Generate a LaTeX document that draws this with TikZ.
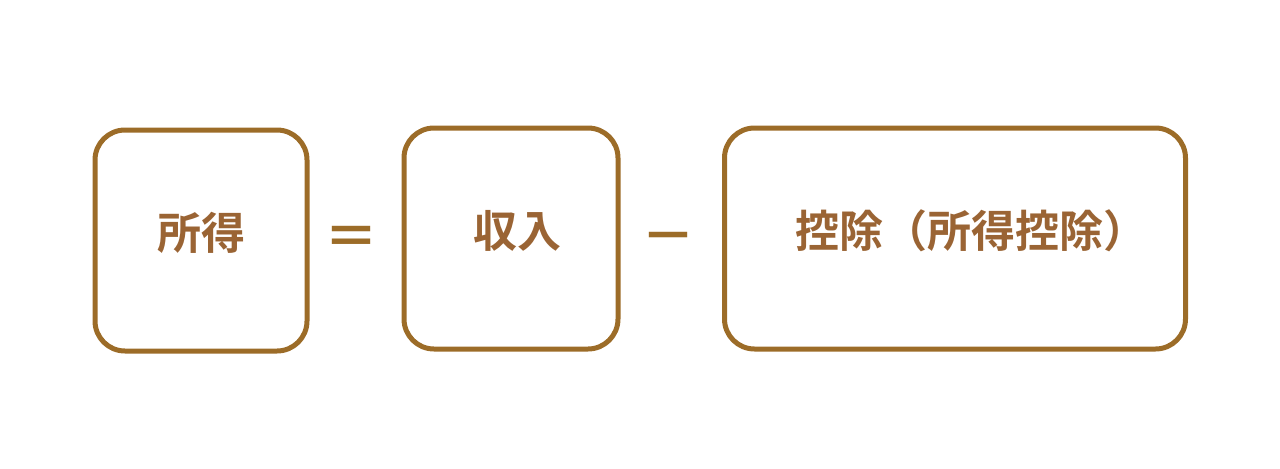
\documentclass[tikz,border=0pt]{standalone}
\usepackage{fontspec}
\setmainfont{Noto Sans CJK JP}
\newfontfamily\jpbold[BoldFont={* Bold}]{Noto Sans CJK JP}
\usepackage{tikz}
\usetikzlibrary{positioning}
\definecolor{boxbrown}{HTML}{9C6C28}
\definecolor{textbrown}{HTML}{9A6434}

\begin{document}
\begin{tikzpicture}[
      x=0.5pt,y=0.5pt,
      termbox/.style={
        minimum height=110.5pt,
        inner sep=0pt,
        text height=18pt,
        text depth=9pt,
        align=center,
        rounded corners=15pt,
        line width=2.5pt,
        draw=boxbrown,
        text=textbrown,
        font=\jpbold\bfseries\fontsize{22pt}{26pt}\selectfont,
      },
      sign/.style={
        text=boxbrown,
        inner sep=0pt,
        font=\jpbold\bfseries\fontsize{27pt}{30pt}\selectfont,
      },
      ]
      \useasboundingbox (0,0) rectangle (1280,468);
      \node[termbox,minimum width=106pt] (shotoku) at (201,227.5) {所得};
      \node[sign] (eq) at (351,227) {＝};
      \node[termbox,minimum width=107pt] (shunyu) at (511,229.5) {\hspace*{6pt}収入};
      \node[sign] (minus) at (668.5,224) {－};
      \node[termbox,minimum width=230.5pt] (kojo) at (955,229.5) {\hspace*{16pt}控除（所得控除）};
    \end{tikzpicture}
\end{document}
